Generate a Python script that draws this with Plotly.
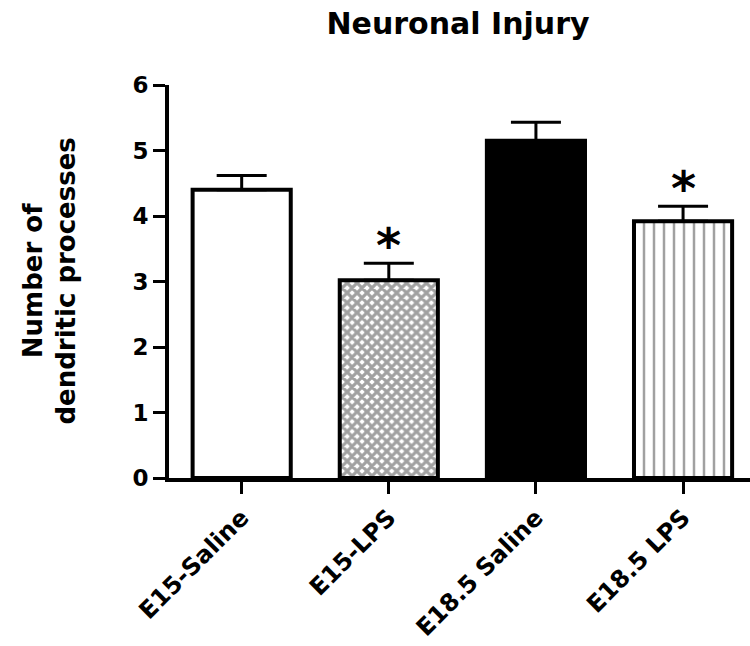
import plotly.graph_objects as go

categories = ["E15-Saline", "E15-LPS", "E18.5 Saline", "E18.5 LPS"]
means = [4.40, 3.02, 5.15, 3.92]
sem = [0.22, 0.26, 0.28, 0.23]
significant = [False, True, False, True]
fill_colors = ["white", "white", "black", "white"]
patterns = ["", "x", "", "|"]
y_ticks = [0, 1, 2, 3, 4, 5, 6]

FONT = "DejaVu Sans"
xpos = list(range(len(categories)))

fig = go.Figure()
fig.add_trace(go.Bar(
    x=xpos, y=means,
    marker=dict(
        color=fill_colors,
        line=dict(color="black", width=4),
        pattern=dict(shape=patterns, fgcolor="black", size=[8, 7, 8, 10],
                     solidity=[0.5, 0.7, 0.5, 0.25]),
    ),
    error_y=dict(type="data", array=sem, arrayminus=[0] * len(sem), symmetric=False,
                 color="black", thickness=3, width=25),
    width=0.667,
    showlegend=False,
))

for i, s in enumerate(significant):
    if s:
        fig.add_annotation(x=xpos[i], y=means[i] + sem[i], text="*", showarrow=False,
                           xref="x", yref="y", yanchor="middle", yshift=18,
                           font=dict(family=FONT, size=48, color="black", weight="bold"))

fig.add_annotation(text="Number of<br>dendritic processes", textangle=-90,
                   xref="paper", yref="paper", x=(49 - 169) / 581, y=0.5,
                   xanchor="center", yanchor="middle", showarrow=False,
                   font=dict(family=FONT, size=26, color="black", weight="bold"))

fig.update_layout(
    width=750, height=646,
    margin=dict(l=169, r=0, t=85, b=168, autoexpand=False),
    paper_bgcolor="white", plot_bgcolor="white",
    title=dict(text="Neuronal Injury", x=(458 - 169) / 581, xref="paper", xanchor="center",
               y=1 - 23 / 646, yref="container", yanchor="middle",
               font=dict(family=FONT, size=30, color="black", weight="bold")),
    xaxis=dict(range=[-0.494, 3.455], tickmode="array", tickvals=xpos, ticktext=categories,
               tickangle=-45, showline=True, linewidth=4, linecolor="black",
               ticks="outside", ticklen=12, tickwidth=3, tickcolor="black",
               showgrid=False, zeroline=False, automargin=False,
               tickfont=dict(family=FONT, size=24, color="black", weight="bold")),
    yaxis=dict(range=[0, 6], tickvals=y_ticks, showline=True, linewidth=4, linecolor="black",
               ticks="outside", ticklen=12, tickwidth=3, tickcolor="black",
               showgrid=False, zeroline=False, automargin=False,
               tickfont=dict(family=FONT, size=23, color="black", weight="bold")),
)

fig.write_html("out.html")
